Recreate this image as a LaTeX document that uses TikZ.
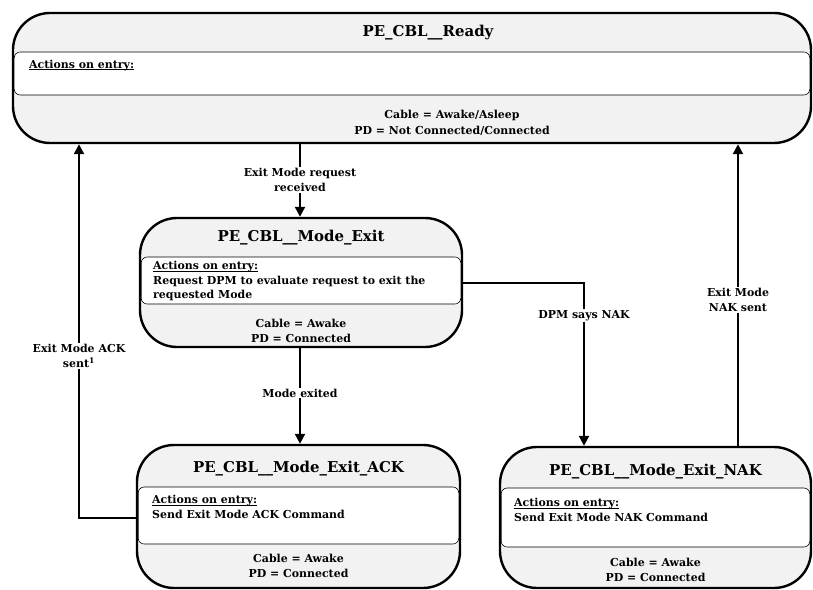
\documentclass[tikz,border=0pt]{standalone}
\usepackage{fontspec}
\setmainfont{DejaVu Serif}
\usetikzlibrary{positioning,arrows.meta}
\definecolor{stategray}{HTML}{F2F2F2}
\tikzset{
  state/.style={draw,line width=2.4bp,fill=stategray,rounded corners=37bp,inner sep=0pt},
  entrybox/.style={draw,line width=0.6bp,fill=white,rounded corners=6bp,inner sep=0pt},
  title/.style={font=\bfseries\fontsize{15}{18}\selectfont,inner sep=0pt},
  txt/.style={font=\bfseries\fontsize{11}{15}\selectfont,inner sep=0pt},
  lbl/.style={font=\bfseries\fontsize{11}{15.5}\selectfont,align=center,inner sep=1pt,fill=white},
  trans/.style={line width=2.2bp,-{Triangle[length=10bp,width=10bp]}},
}
\newcommand\onentry{\underline{\smash{Actions on entry:}}}
\begin{document}
\begin{tikzpicture}[x=1bp,y=-1bp]
\useasboundingbox (0,0) rectangle (813,590);
%% PE_CBL_Ready
\node (ready) at (412,78) [state,minimum width=798bp,minimum height=130bp] {};
\node (ready_act) at (412,73.5) [entrybox,minimum width=795.6bp,minimum height=43bp] {};
\node (ready_name) at (428,33) [title] {PE\_CBL\_\_Ready};
\node (ready_entry) at (29,69) [txt,anchor=west] {\onentry};
\node (ready_st) at (452,123) [txt,align=center,font=\bfseries\fontsize{11}{15.5}\selectfont] {Cable = Awake/Asleep\\PD = Not Connected/Connected};
%% PE_CBL_Mode_Exit
\node (exit) at (301,282.5) [state,minimum width=322bp,minimum height=129bp] {};
\node (exit_act) at (301,280.5) [entrybox,minimum width=319.6bp,minimum height=47bp] {};
\node (exit_name) at (301,237.5) [title] {PE\_CBL\_\_Mode\_Exit};
\node (exit_entry) at (153,285.5) [txt,anchor=west,align=left,font=\bfseries\fontsize{11}{14.6}\selectfont] {\onentry\\Request DPM to evaluate request to exit the\\requested Mode};
\node (exit_st) at (301,330.5) [txt,align=center] {Cable = Awake\\PD = Connected};
%% PE_CBL_Mode_Exit_ACK
\node (ack) at (298.5,516.5) [state,minimum width=323bp,minimum height=143bp] {};
\node (ack_act) at (298.5,515.5) [entrybox,minimum width=320.6bp,minimum height=57bp] {};
\node (ack_name) at (298.5,469) [title] {PE\_CBL\_\_Mode\_Exit\_ACK};
\node (ack_entry) at (152,511.5) [txt,anchor=west,align=left] {\onentry\\Send Exit Mode ACK Command};
\node (ack_st) at (298.5,565.5) [txt,align=center] {Cable = Awake\\PD = Connected};
%% PE_CBL_Mode_Exit_NAK
\node (nak) at (655.5,517.5) [state,minimum width=311bp,minimum height=141bp] {};
\node (nak_act) at (655.5,517.5) [entrybox,minimum width=308.6bp,minimum height=59bp] {};
\node (nak_name) at (655.5,472) [title] {PE\_CBL\_\_Mode\_Exit\_NAK};
\node (nak_entry) at (514,514) [txt,anchor=west,align=left] {\onentry\\Send Exit Mode NAK Command};
\node (nak_st) at (655.5,569.5) [txt,align=center] {Cable = Awake\\PD = Connected};
%% transitions
\draw [trans] (ready.south -| 300,0) -- node [lbl,pos=0.49] {Exit Mode request\\received} (exit.north -| 300,0);
\draw [trans] (exit.south -| 300,0) -- node [lbl,pos=0.47] {Mode exited} (ack.north -| 300,0);
\draw [trans] (exit.east |- 0,283) -| node [lbl,pos=0.6] {DPM says NAK} (nak.north -| 584,0);
\draw [trans] (nak.north -| 738,0) -- node [lbl,pos=0.484] {Exit Mode\\NAK sent} (ready.south -| 738,0);
\draw [trans] (ack.west |- 0,518) -| node [lbl,pos=0.717] {Exit Mode ACK\\sent\textsuperscript{1}} (ready.south -| 79,0);
\end{tikzpicture}
\end{document}
